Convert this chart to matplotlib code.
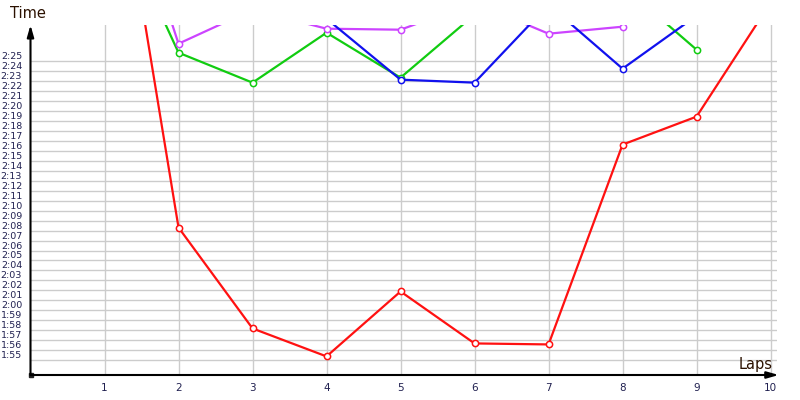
import matplotlib.pyplot as plt

# lap times in seconds (values above ~2:28.5 run off the top of the chart)
red_laps = [1, 2, 3, 4, 5, 6, 7, 8, 9, 10]
red_times = [173.4, 128.3, 118.2, 115.4, 121.9, 116.7, 116.6, 136.6, 139.4, 150.8]

green_laps = [1, 2, 3, 4, 5, 6, 7, 8, 9]
green_times = [161.9, 145.8, 142.8, 147.8, 143.3, 149.6, 151.0, 152.5, 146.1]

purple_laps = [1, 2, 3, 4, 5, 6, 7, 8]
purple_times = [169.3, 146.7, 150.1, 148.2, 148.1, 150.8, 147.7, 148.4]

blue_laps = [4, 5, 6, 7, 8, 9]
blue_times = [149.2, 143.1, 142.8, 150.6, 144.2, 149.5]

x_ticks = list(range(1, 11))
y_ticks = list(range(115, 146))  # 1:55 .. 2:25


def fmt(s):
    return f"{s // 60}:{s % 60:02d}"


fig = plt.figure(figsize=(8, 4), dpi=100)
ax = fig.add_axes([30.5 / 800, 25 / 400, 746 / 800, 350 / 400])

ax.set_xlim(0, 10.08)
ax.set_ylim(113.54, 148.57)

ax.set_xticks(x_ticks)
ax.set_xticklabels([str(v) for v in x_ticks])
ax.set_yticks(y_ticks)
ax.set_yticklabels([fmt(v) for v in y_ticks])
ax.tick_params(length=0, labelsize=6.8, labelcolor='#202050')
ax.tick_params(axis='y', pad=6)
ax.tick_params(axis='x', pad=6, labelsize=7.5)
for lbl in ax.get_yticklabels():
    lbl.set_va('bottom')

ax.grid(True, color='#cccccc', linewidth=1)
ax.set_axisbelow(True)
for s in ax.spines.values():
    s.set_visible(False)

style = dict(linewidth=1.6, marker='o', markersize=4.5, markerfacecolor='white',
             markeredgewidth=1.1)
ax.plot(green_laps, green_times, color='#11cc11', **style)
ax.plot(purple_laps, purple_times, color='#cc44ff', **style)
ax.plot(blue_laps, blue_times, color='#1111ee', **style)
ax.plot(red_laps, red_times, color='#ff1111', **style)

# axes with arrows
arrow = dict(arrowstyle='-|>,head_length=0.7,head_width=0.2', color='black',
             linewidth=1.5, shrinkA=0, shrinkB=0)
ax.annotate('', xy=(0, 1.0), xytext=(0, 0), xycoords='axes fraction',
            arrowprops=arrow, annotation_clip=False)
ax.annotate('', xy=(1.003, 0), xytext=(0, 0), xycoords='axes fraction',
            arrowprops=arrow, annotation_clip=False)
ax.plot([0], [0], marker='s', markersize=3, color='#222222',
        transform=ax.transAxes, clip_on=False)

fig.text(10 / 800, 1 - 14 / 400, 'Time', fontsize=10.5, color='#2b1100',
         va='center', ha='left')
fig.text(773 / 800, 1 - 364 / 400, 'Laps', fontsize=10.5, color='#2b1100',
         va='center', ha='right')

fig.savefig('out.png', dpi=100)
